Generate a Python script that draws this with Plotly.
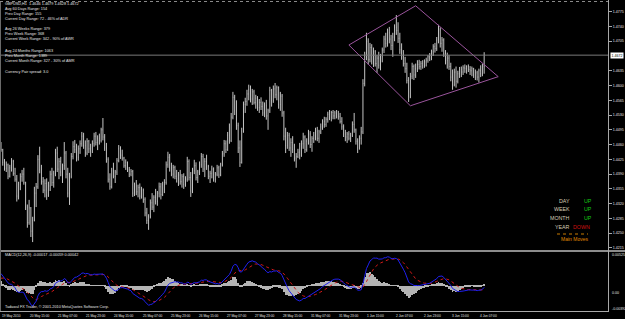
import plotly.graph_objects as go

# ---------------- data (GBPUSD H1) ----------------
opens = [
 1.4460,1.4448,1.4418,1.4404,1.4412,1.4385,1.4405,1.4420,1.4392,1.4378,
 1.4338,1.4365,1.4384,1.4390,1.4370,1.4312,1.4275,1.4310,1.4255,1.4280,
 1.4345,1.4360,1.4425,1.4400,1.4372,1.4352,1.4368,1.4340,1.4362,1.4390,
 1.4370,1.4392,1.4440,1.4402,1.4420,1.4395,1.4410,1.4440,1.4390,1.4345,
 1.4385,1.4432,1.4455,1.4448,1.4430,1.4450,1.4462,1.4480,1.4458,1.4440,
 1.4468,1.4450,1.4445,1.4462,1.4480,1.4465,1.4475,1.4470,1.4495,1.4478,
 1.4452,1.4425,1.4378,1.4360,1.4398,1.4385,1.4395,1.4422,1.4450,1.4435,
 1.4428,1.4410,1.4418,1.4400,1.4390,1.4396,1.4345,1.4362,1.4348,1.4358,
 1.4338,1.4352,1.4330,1.4298,1.4280,1.4290,1.4322,1.4312,1.4335,1.4325,
 1.4345,1.4360,1.4342,1.4365,1.4370,1.4412,1.4430,1.4405,1.4390,1.4406,
 1.4385,1.4380,1.4388,1.4372,1.4384,1.4365,1.4378,1.4420,1.4382,1.4350,
 1.4398,1.4410,1.4382,1.4395,1.4412,1.4432,1.4402,1.4420,1.4408,1.4385,
 1.4392,1.4402,1.4378,1.4390,1.4405,1.4388,1.4412,1.4438,1.4462,1.4448,
 1.4482,1.4470,1.4525,1.4572,1.4540,1.4505,1.4452,1.4418,1.4492,1.4555,
 1.4562,1.4580,1.4590,1.4568,1.4585,1.4560,1.4570,1.4548,1.4560,1.4550,
 1.4535,1.4552,1.4528,1.4540,1.4588,1.4565,1.4592,1.4578,1.4595,1.4555,
 1.4575,1.4535,1.4480,1.4458,1.4482,1.4452,1.4465,1.4448,1.4428,1.4432,
 1.4442,1.4435,1.4462,1.4478,1.4448,1.4468,1.4485,1.4460,1.4475,1.4482,
 1.4492,1.4475,1.4490,1.4502,1.4515,1.4508,1.4520,1.4532,1.4525,1.4536,
 1.4528,1.4535,1.4530,1.4526,1.4515,1.4502,1.4485,1.4478,1.4485,1.4475,
 1.4482,1.4508,1.4495,1.4468,1.4452,1.4475,1.4490,1.4605,1.4672,1.4705,
 1.4662,1.4690,1.4658,1.4680,1.4652,1.4665,1.4648,1.4670,1.4684,1.4710,
 1.4700,1.4725,1.4710,1.4695,1.4715,1.4738,1.4730,1.4712,1.4685,1.4670,
 1.4652,1.4640,1.4612,1.4575,1.4622,1.4645,1.4625,1.4640,1.4650,1.4645,
 1.4652,1.4648,1.4656,1.4660,1.4668,1.4665,1.4680,1.4692,1.4688,1.4708,
 1.4732,1.4700,1.4708,1.4675,1.4660,1.4665,1.4645,1.4620,1.4602,1.4632,
 1.4610,1.4628,1.4638,1.4632,1.4642,1.4640,1.4645,1.4638,1.4635,1.4640,
 1.4625,1.4630,1.4620,1.4635,1.4628,1.4646]
highs = [
 1.4466,1.4450,1.4426,1.4420,1.4415,1.4412,1.4428,1.4424,1.4405,1.4388,
 1.4372,1.4392,1.4400,1.4405,1.4372,1.4318,1.4329,1.4312,1.4289,1.4360,
 1.4369,1.4435,1.4455,1.4412,1.4383,1.4378,1.4380,1.4372,1.4398,1.4405,
 1.4398,1.4450,1.4455,1.4428,1.4431,1.4415,1.4466,1.4445,1.4405,1.4393,
 1.4440,1.4468,1.4471,1.4462,1.4458,1.4470,1.4490,1.4488,1.4470,1.4475,
 1.4471,1.4462,1.4470,1.4488,1.4490,1.4482,1.4486,1.4500,1.4523,1.4485,
 1.4464,1.4430,1.4392,1.4405,1.4417,1.4400,1.4428,1.4459,1.4456,1.4448,
 1.4431,1.4425,1.4420,1.4407,1.4402,1.4400,1.4370,1.4376,1.4365,1.4368,
 1.4360,1.4356,1.4335,1.4310,1.4295,1.4330,1.4345,1.4340,1.4355,1.4350,
 1.4370,1.4369,1.4372,1.4378,1.4420,1.4443,1.4438,1.4417,1.4412,1.4410,
 1.4400,1.4395,1.4400,1.4390,1.4392,1.4385,1.4431,1.4425,1.4395,1.4405,
 1.4424,1.4418,1.4400,1.4420,1.4440,1.4438,1.4428,1.4436,1.4412,1.4398,
 1.4410,1.4406,1.4395,1.4412,1.4410,1.4417,1.4445,1.4471,1.4470,1.4490,
 1.4510,1.4535,1.4585,1.4578,1.4565,1.4512,1.4470,1.4500,1.4562,1.4571,
 1.4590,1.4602,1.4600,1.4592,1.4590,1.4578,1.4575,1.4568,1.4572,1.4562,
 1.4560,1.4566,1.4545,1.4597,1.4592,1.4600,1.4606,1.4600,1.4598,1.4585,
 1.4580,1.4540,1.4500,1.4490,1.4488,1.4475,1.4480,1.4462,1.4440,1.4450,
 1.4464,1.4470,1.4488,1.4482,1.4475,1.4495,1.4492,1.4480,1.4490,1.4500,
 1.4502,1.4495,1.4510,1.4520,1.4526,1.4525,1.4538,1.4542,1.4540,1.4542,
 1.4540,1.4542,1.4540,1.4535,1.4525,1.4508,1.4495,1.4490,1.4492,1.4488,
 1.4515,1.4535,1.4498,1.4475,1.4482,1.4502,1.4615,1.4680,1.4725,1.4712,
 1.4701,1.4698,1.4690,1.4684,1.4672,1.4680,1.4675,1.4690,1.4718,1.4725,
 1.4735,1.4739,1.4720,1.4725,1.4745,1.4767,1.4750,1.4725,1.4700,1.4684,
 1.4668,1.4654,1.4620,1.4630,1.4654,1.4650,1.4652,1.4660,1.4661,1.4658,
 1.4660,1.4662,1.4666,1.4672,1.4677,1.4685,1.4698,1.4701,1.4715,1.4744,
 1.4738,1.4715,1.4712,1.4684,1.4678,1.4672,1.4654,1.4638,1.4640,1.4645,
 1.4635,1.4644,1.4645,1.4648,1.4650,1.4648,1.4650,1.4646,1.4645,1.4642,
 1.4638,1.4635,1.4640,1.4648,1.4652,1.4679]
lows = [
 1.4443,1.4410,1.4398,1.4395,1.4378,1.4382,1.4396,1.4386,1.4372,1.4325,
 1.4330,1.4352,1.4372,1.4365,1.4305,1.4263,1.4270,1.4241,1.4229,1.4278,
 1.4312,1.4355,1.4392,1.4365,1.4345,1.4335,1.4329,1.4336,1.4350,1.4362,
 1.4358,1.4385,1.4395,1.4378,1.4385,1.4369,1.4400,1.4380,1.4335,1.4317,
 1.4380,1.4425,1.4440,1.4420,1.4422,1.4438,1.4455,1.4450,1.4431,1.4435,
 1.4440,1.4431,1.4440,1.4455,1.4458,1.4447,1.4460,1.4465,1.4470,1.4445,
 1.4417,1.4370,1.4353,1.4356,1.4380,1.4369,1.4388,1.4418,1.4426,1.4422,
 1.4405,1.4400,1.4395,1.4383,1.4385,1.4336,1.4338,1.4340,1.4335,1.4330,
 1.4332,1.4322,1.4290,1.4272,1.4258,1.4285,1.4305,1.4300,1.4318,1.4315,
 1.4335,1.4330,1.4338,1.4345,1.4365,1.4405,1.4396,1.4385,1.4380,1.4378,
 1.4370,1.4362,1.4365,1.4358,1.4355,1.4360,1.4372,1.4375,1.4336,1.4345,
 1.4390,1.4375,1.4369,1.4388,1.4405,1.4395,1.4383,1.4400,1.4378,1.4369,
 1.4380,1.4372,1.4370,1.4385,1.4381,1.4385,1.4408,1.4431,1.4440,1.4445,
 1.4462,1.4466,1.4520,1.4530,1.4495,1.4440,1.4407,1.4415,1.4488,1.4535,
 1.4552,1.4565,1.4560,1.4554,1.4555,1.4545,1.4540,1.4535,1.4542,1.4528,
 1.4525,1.4519,1.4495,1.4535,1.4550,1.4559,1.4570,1.4565,1.4545,1.4540,
 1.4526,1.4470,1.4440,1.4450,1.4445,1.4431,1.4440,1.4420,1.4405,1.4428,
 1.4425,1.4431,1.4450,1.4440,1.4443,1.4460,1.4452,1.4443,1.4464,1.4470,
 1.4468,1.4464,1.4485,1.4495,1.4500,1.4502,1.4512,1.4518,1.4515,1.4520,
 1.4520,1.4522,1.4519,1.4510,1.4495,1.4478,1.4468,1.4464,1.4470,1.4466,
 1.4478,1.4488,1.4460,1.4440,1.4448,1.4460,1.4485,1.4598,1.4660,1.4650,
 1.4655,1.4650,1.4644,1.4645,1.4630,1.4640,1.4636,1.4655,1.4677,1.4690,
 1.4692,1.4700,1.4684,1.4668,1.4705,1.4720,1.4701,1.4675,1.4661,1.4645,
 1.4630,1.4605,1.4561,1.4570,1.4615,1.4613,1.4618,1.4632,1.4638,1.4637,
 1.4640,1.4642,1.4645,1.4654,1.4658,1.4660,1.4670,1.4678,1.4682,1.4700,
 1.4690,1.4680,1.4668,1.4650,1.4640,1.4637,1.4610,1.4590,1.4598,1.4595,
 1.4605,1.4618,1.4620,1.4625,1.4630,1.4628,1.4632,1.4625,1.4622,1.4618,
 1.4613,1.4612,1.4607,1.4620,1.4622,1.4628]
closes = [
 1.4448,1.4418,1.4404,1.4412,1.4385,1.4405,1.4420,1.4392,1.4378,1.4338,
 1.4365,1.4384,1.4390,1.4370,1.4312,1.4275,1.4310,1.4255,1.4280,1.4345,
 1.4360,1.4425,1.4400,1.4372,1.4352,1.4368,1.4340,1.4362,1.4390,1.4370,
 1.4392,1.4440,1.4402,1.4420,1.4395,1.4410,1.4440,1.4390,1.4345,1.4385,
 1.4432,1.4455,1.4448,1.4430,1.4450,1.4462,1.4480,1.4458,1.4440,1.4468,
 1.4450,1.4445,1.4462,1.4480,1.4465,1.4475,1.4470,1.4495,1.4478,1.4452,
 1.4425,1.4378,1.4360,1.4398,1.4385,1.4395,1.4422,1.4450,1.4435,1.4428,
 1.4410,1.4418,1.4400,1.4390,1.4396,1.4345,1.4362,1.4348,1.4358,1.4338,
 1.4352,1.4330,1.4298,1.4280,1.4290,1.4322,1.4312,1.4335,1.4325,1.4345,
 1.4360,1.4342,1.4365,1.4370,1.4412,1.4430,1.4405,1.4390,1.4406,1.4385,
 1.4380,1.4388,1.4372,1.4384,1.4365,1.4378,1.4420,1.4382,1.4350,1.4398,
 1.4410,1.4382,1.4395,1.4412,1.4432,1.4402,1.4420,1.4408,1.4385,1.4392,
 1.4402,1.4378,1.4390,1.4405,1.4388,1.4412,1.4438,1.4462,1.4448,1.4482,
 1.4470,1.4525,1.4572,1.4540,1.4505,1.4452,1.4418,1.4492,1.4555,1.4562,
 1.4580,1.4590,1.4568,1.4585,1.4560,1.4570,1.4548,1.4560,1.4550,1.4535,
 1.4552,1.4528,1.4540,1.4588,1.4565,1.4592,1.4578,1.4595,1.4555,1.4575,
 1.4535,1.4480,1.4458,1.4482,1.4452,1.4465,1.4448,1.4428,1.4432,1.4442,
 1.4435,1.4462,1.4478,1.4448,1.4468,1.4485,1.4460,1.4475,1.4482,1.4492,
 1.4475,1.4490,1.4502,1.4515,1.4508,1.4520,1.4532,1.4525,1.4536,1.4528,
 1.4535,1.4530,1.4526,1.4515,1.4502,1.4485,1.4478,1.4485,1.4475,1.4482,
 1.4508,1.4495,1.4468,1.4452,1.4475,1.4490,1.4605,1.4672,1.4705,1.4662,
 1.4690,1.4658,1.4680,1.4652,1.4665,1.4648,1.4670,1.4684,1.4710,1.4700,
 1.4725,1.4710,1.4695,1.4715,1.4738,1.4730,1.4712,1.4685,1.4670,1.4652,
 1.4640,1.4612,1.4575,1.4622,1.4645,1.4625,1.4640,1.4650,1.4645,1.4652,
 1.4648,1.4656,1.4660,1.4668,1.4665,1.4680,1.4692,1.4688,1.4708,1.4732,
 1.4700,1.4708,1.4675,1.4660,1.4665,1.4645,1.4620,1.4602,1.4632,1.4610,
 1.4628,1.4638,1.4632,1.4642,1.4640,1.4645,1.4638,1.4635,1.4640,1.4625,
 1.4630,1.4620,1.4635,1.4628,1.4646,1.4672]

time_labels = ["19 May 2010", "20 May 15:00", "21 May 07:00", "21 May 23:00",
               "24 May 15:00", "25 May 07:00", "25 May 23:00", "26 May 15:00",
               "27 May 07:00", "27 May 23:00", "28 May 15:00", "31 May 07:00",
               "31 May 23:00", "1 Jun 15:00", "2 Jun 07:00", "2 Jun 23:00",
               "3 Jun 15:00", "4 Jun 07:00"]
time_label_bars = [0, 16, 32, 48, 64, 80, 96, 112, 128, 144, 160, 176, 192,
                   208, 224, 240, 256, 272]
price_ticks = [1.4775, 1.4740, 1.4705, 1.4635, 1.4600, 1.4565, 1.4530, 1.4495,
               1.4460, 1.4425, 1.4390, 1.4355, 1.4320, 1.4285, 1.4250, 1.4215]
current_price = 1.4672
# MACD window scale (max / min shown on its axis) and state at the first bar
macd_axis_values = [0.00525, 0.0, -0.00392]
macd_axis_labels = ["0.00525", "0.00", "-0.00392"]
macd_at_first_bar = 0.0021
signal_at_first_bar = 0.0013

# hand-drawn diamond (bar index, price)
diamond_bars = [198, 236, 283, 233, 198]
diamond_prices = [1.4696, 1.4789, 1.4621, 1.4552, 1.4696]

info_lines = ["GBPUSD,H1  1.4646 1.4679 1.4628 1.4672",
              "Avg 60 Days Range: 154", "Prev Day Range: 155",
              "Current Day Range: 72 - 46% of ADR",
              "Avg 26 Weeks Range: 379", "Prev Week Range: 368",
              "Current Week Range: 342 - 90% of AWR",
              "Avg 24 Months Range: 1063", "Prev Month Range: 1389",
              "Current Month Range: 327 - 30% of AMR",
              "Currency Pair spread: 3.0"]
moves_periods = ["DAY", "WEEK", "MONTH", "YEAR"]
moves_states = ["UP", "UP", "UP", "DOWN"]

# ---------------- indicator (MACD 12,26,9 on closes) ----------------
N = len(closes)
bars = list(range(N))


def ema(vals, n, seed):
    k = 2.0 / (n + 1)
    out = [seed]
    for v in vals[1:]:
        out.append(out[-1] + k * (v - out[-1]))
    return out


ema_fast = ema(closes, 12, closes[0])
ema_slow = ema(closes, 26, closes[0] - macd_at_first_bar)
macd_line = [a - b for a, b in zip(ema_fast, ema_slow)]
signal_line = ema(macd_line, 9, signal_at_first_bar)
hist = [m - s for m, s in zip(macd_line, signal_line)]

# ---------------- layout geometry ----------------
W, H = 625, 319
PLOT_W = 608           # plot area: x 0..608
TOP, BOT = 2, 311      # plot area: y 2..311
PH = BOT - TOP


def pxx(x):
    return x / PLOT_W


def pxy(y):
    return (BOT - y) / PH


BAR_PX = 1.757
X0_PX = 1.0
x_range = [(0 - X0_PX) / BAR_PX, (PLOT_W - X0_PX) / BAR_PX]
PRICE_PER_PX = 0.000237
P_AT_0 = 1.48027
y_range = [P_AT_0 - PRICE_PER_PX * 250, P_AT_0 - PRICE_PER_PX * TOP]

# MACD panel: top label level at y=255, bottom label level at y=309
M_TOP_Y, M_BOT_Y = 255.0, 309.0
m_per_px = (macd_axis_values[0] - macd_axis_values[2]) / (M_BOT_Y - M_TOP_Y)
macd_range = [macd_axis_values[2] - (311 - M_BOT_Y) * m_per_px,
              macd_axis_values[0] + (M_TOP_Y - 252) * m_per_px]

FONT = "Liberation Sans, Arial, sans-serif"
TXT = "#e4e4e4"

fig = go.Figure()

fig.add_trace(go.Ohlc(
    x=bars, open=opens, high=highs, low=lows, close=closes,
    increasing=dict(line=dict(color="#c4c4c4", width=1)),
    decreasing=dict(line=dict(color="#c4c4c4", width=1)),
    tickwidth=0.18, hoverinfo="skip", xaxis="x", yaxis="y"))

fig.add_trace(go.Scatter(
    x=diamond_bars, y=diamond_prices, mode="lines",
    line=dict(color="#9a549c", width=1), hoverinfo="skip",
    xaxis="x", yaxis="y"))

fig.add_trace(go.Bar(
    x=bars, y=hist, width=0.5, marker=dict(color="#b4b4b4", line=dict(width=0)),
    hoverinfo="skip", xaxis="x2", yaxis="y2"))
fig.add_trace(go.Scatter(
    x=bars, y=signal_line, mode="lines",
    line=dict(color="#d01818", width=1, dash="dot"), hoverinfo="skip",
    xaxis="x2", yaxis="y2"))
fig.add_trace(go.Scatter(
    x=bars, y=macd_line, mode="lines",
    line=dict(color="#2020f0", width=1), hoverinfo="skip",
    xaxis="x2", yaxis="y2"))

shapes = []
shapes.append(dict(type="line", xref="paper", yref="y", x0=0, x1=1,
                   y0=current_price, y1=current_price,
                   line=dict(color="#7a7a7a", width=1)))
shapes.append(dict(type="line", xref="paper", yref="paper", x0=0, x1=1,
                   y0=pxy(1.5), y1=pxy(1.5),
                   line=dict(color="#8a8a8a", width=1, dash="dot")))
shapes.append(dict(type="rect", xref="paper", yref="paper", x0=0, x1=pxx(W),
                   y0=pxy(252), y1=pxy(250), fillcolor="#8c8c8c",
                   line=dict(width=0)))
shapes.append(dict(type="line", xref="paper", yref="paper", x0=pxx(608.5),
                   x1=pxx(608.5), y0=pxy(311.5), y1=pxy(0),
                   line=dict(color="#a8a8a8", width=1)))
shapes.append(dict(type="line", xref="paper", yref="paper", x0=0,
                   x1=pxx(609), y0=pxy(311.5), y1=pxy(311.5),
                   line=dict(color="#a8a8a8", width=1)))
shapes.append(dict(type="line", xref="paper", yref="paper", x0=pxx(0.5),
                   x1=pxx(0.5), y0=pxy(311), y1=pxy(2),
                   line=dict(color="#6a6a6a", width=1)))
shapes.append(dict(type="line", xref="paper", yref="paper", x0=pxx(557),
                   x1=pxx(588), y0=pxy(234), y1=pxy(234),
                   line=dict(color="#c87a00", width=1, dash="dot")))

ann = []
info_y = [4.3, 9.3, 14.3, 19.3, 29.3, 34.3, 39.3, 50.7, 55.8, 61.0, 71.7]
for t, yy in zip(info_lines, info_y):
    ann.append(dict(text=t, x=pxx(2.5), y=pxy(yy), xref="paper", yref="paper",
                    xanchor="left", yanchor="middle", showarrow=False,
                    font=dict(size=3.8, color=TXT, family=FONT)))

ann.append(dict(text=f"{current_price:.4f}", x=pxx(609.5), y=current_price,
                xref="paper", yref="y", xanchor="left", yanchor="middle",
                showarrow=False, bgcolor="#ffffff", borderpad=0.6,
                font=dict(size=3.6, color="#000000", family=FONT)))

ann.append(dict(text="MACD(12,26,9) -0.00017 -0.00059 0.00042", x=pxx(2.5),
                y=pxy(255.3), xref="paper", yref="paper", xanchor="left",
                yanchor="middle", showarrow=False,
                font=dict(size=3.8, color=TXT, family=FONT)))
ann.append(dict(text="Tadawul FX Trader, \u00a9 2001-2010 MetaQuotes Software Corp.",
                x=pxx(2.5), y=pxy(307), xref="paper", yref="paper",
                xanchor="left", yanchor="middle", showarrow=False,
                font=dict(size=3.8, color=TXT, family=FONT)))
for t, yy in zip(macd_axis_labels, [255.3, 292.5, 309.0]):
    ann.append(dict(text=t, x=pxx(610.5), y=pxy(yy), xref="paper", yref="paper",
                    xanchor="left", yanchor="middle", showarrow=False,
                    font=dict(size=3.6, color=TXT, family=FONT)))

for t, b in zip(time_labels, time_label_bars):
    ann.append(dict(text=t, x=b, y=pxy(316), xref="x", yref="paper",
                    xanchor="left", yanchor="middle", xshift=-1, showarrow=False,
                    font=dict(size=3.2, color=TXT, family=FONT)))

moves_y = [200.7, 209.3, 218.0, 226.7]
for p, s, yy in zip(moves_periods, moves_states, moves_y):
    ann.append(dict(text=p, x=pxx(572), y=pxy(yy), xref="paper", yref="paper",
                    xanchor="right", yanchor="middle", showarrow=False,
                    font=dict(size=5.3, color="#d6cdb6", family=FONT)))
    col = "#16c816" if s == "UP" else "#d01010"
    cx = 587.5 if s == "UP" else 581.0
    ann.append(dict(text=s, x=pxx(cx), y=pxy(yy), xref="paper", yref="paper",
                    xanchor="center", yanchor="middle", showarrow=False,
                    font=dict(size=5.3, color=col, family=FONT)))
ann.append(dict(text="Main Moves", x=pxx(574.5), y=pxy(238.5), xref="paper",
                yref="paper", xanchor="center", yanchor="middle",
                showarrow=False, font=dict(size=5.0, color="#e08a00", family=FONT)))

fig.update_layout(
    template="none",
    width=W, height=H,
    margin=dict(l=0, r=W - PLOT_W, t=TOP, b=H - BOT, pad=0, autoexpand=False),
    paper_bgcolor="#000000", plot_bgcolor="#000000",
    showlegend=False, bargap=0,
    xaxis=dict(domain=[0, 1], range=x_range, visible=False, anchor="y",
               rangeslider=dict(visible=False), fixedrange=True),
    xaxis2=dict(domain=[0, 1], range=x_range, visible=False, anchor="y2",
                matches="x"),
    yaxis=dict(domain=[pxy(250), 1], range=y_range, side="right",
               tickmode="array", tickvals=price_ticks,
               ticktext=[f"{v:.4f}" for v in price_ticks],
               ticks="outside", ticklen=3, tickcolor="#a8a8a8", tickwidth=1,
               tickfont=dict(size=3.6, color=TXT, family=FONT),
               showgrid=False, zeroline=False, showline=False,
               automargin=False, anchor="x"),
    yaxis2=dict(domain=[0, pxy(252)], range=macd_range,
                showticklabels=False, ticks="", showgrid=False,
                zeroline=False, showline=False, automargin=False, anchor="x2"),
    shapes=shapes, annotations=ann,
)

fig.write_html("out.html")
